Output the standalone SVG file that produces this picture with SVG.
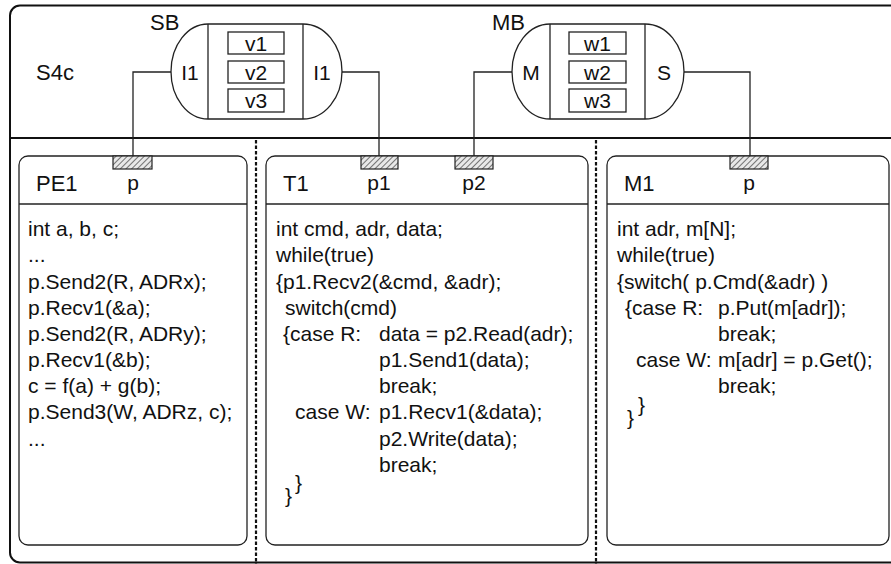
<svg xmlns="http://www.w3.org/2000/svg" width="891" height="564" viewBox="0 0 891 564">
<style>
text{font-family:"Liberation Sans",Arial,sans-serif;fill:#111}
.lbl{font-size:22px}
.code{font-size:21px}
.small{font-size:21px;text-anchor:middle}
.box{fill:#fff;stroke:#222;stroke-width:1.3}
.ln{fill:none;stroke:#222;stroke-width:1.3}
.port{fill:url(#hatch);stroke:#222;stroke-width:1.2}
.conn{fill:none;stroke:#222;stroke-width:1.3}
.dots{stroke:#111;stroke-width:2.2;stroke-dasharray:3.5 2}
</style>
<defs>
<pattern id="hatch" patternUnits="userSpaceOnUse" width="4" height="4" patternTransform="rotate(45)">
<rect width="4" height="4" fill="#e8e8e8"/>
<line x1="0" y1="0" x2="0" y2="4" stroke="#555" stroke-width="1.6"/>
</pattern>
</defs>
<rect width="891" height="564" fill="#fff"/>
<g id="S4c">
<rect x="10" y="5.5" width="900" height="557" rx="10" fill="none" stroke="#111" stroke-width="2"/>
<line x1="10" y1="138" x2="891" y2="138" stroke="#111" stroke-width="1.8"/>
<line class="dots" x1="256" y1="140" x2="256" y2="564"/>
<line class="dots" x1="596" y1="140" x2="596" y2="564"/>
<text class="lbl" x="36" y="80">S4c</text>
</g>
<g id="SB">
<path class="box" d="M208,24 L303,24 A39,47.5 0 0 1 303,119 L208,119 A37,47.5 0 0 1 208,24 Z"/>
<line class="ln" x1="208" y1="24" x2="208" y2="119"/>
<line class="ln" x1="303" y1="24" x2="303" y2="119"/>
<rect class="box" x="228" y="32" width="56" height="22"/>
<rect class="box" x="228" y="61" width="56" height="22"/>
<rect class="box" x="228" y="89" width="56" height="23"/>
<text class="small" x="256" y="51">v1</text>
<text class="small" x="256" y="80">v2</text>
<text class="small" x="256" y="108">v3</text>
<text class="small" x="190" y="80">I1</text>
<text class="small" x="322" y="80">I1</text>
<text class="lbl" x="150" y="30">SB</text>
</g>
<g id="MB">
<path class="box" d="M550,24 L645,24 A39,47.5 0 0 1 645,119 L550,119 A38,47.5 0 0 1 550,24 Z"/>
<line class="ln" x1="550" y1="24" x2="550" y2="119"/>
<line class="ln" x1="645" y1="24" x2="645" y2="119"/>
<rect class="box" x="569" y="32" width="57" height="22"/>
<rect class="box" x="569" y="61" width="57" height="22"/>
<rect class="box" x="569" y="89" width="57" height="23"/>
<text class="small" x="597.5" y="51">w1</text>
<text class="small" x="597.5" y="80">w2</text>
<text class="small" x="597.5" y="108">w3</text>
<text class="small" x="531" y="80">M</text>
<text class="small" x="664" y="80">S</text>
<text class="lbl" x="492" y="30">MB</text>
</g>
<g id="connectors">
<polyline class="conn" points="171,72 133,72 133,156"/>
<polyline class="conn" points="342,72 379,72 379,156"/>
<polyline class="conn" points="512,72 474,72 474,156"/>
<polyline class="conn" points="684,72 750,72 750,156"/>
</g>
<g id="PE1">
<rect class="box" x="19" y="156" width="228" height="389" rx="9"/>
<line class="ln" x1="19" y1="204" x2="247" y2="204"/>
<rect class="port" x="113" y="156" width="39" height="13"/>
<text class="lbl" x="36" y="191">PE1</text>
<text class="small" x="133" y="190">p</text>
<text class="code" x="28" y="236">int a, b, c;</text>
<text class="code" x="28" y="262">...</text>
<text class="code" x="28" y="289">p.Send2(R, ADRx);</text>
<text class="code" x="28" y="315">p.Recv1(&amp;a);</text>
<text class="code" x="28" y="341">p.Send2(R, ADRy);</text>
<text class="code" x="28" y="367">p.Recv1(&amp;b);</text>
<text class="code" x="28" y="393">c = f(a) + g(b);</text>
<text class="code" x="28" y="419">p.Send3(W, ADRz, c);</text>
<text class="code" x="28" y="446">...</text>
</g>
<g id="T1">
<rect class="box" x="266" y="156" width="322" height="389" rx="9"/>
<line class="ln" x1="266" y1="204" x2="588" y2="204"/>
<rect class="port" x="361" y="156" width="37" height="13"/>
<rect class="port" x="455" y="156" width="38" height="13"/>
<text class="lbl" x="283" y="191">T1</text>
<text class="small" x="379" y="190">p1</text>
<text class="small" x="474" y="190">p2</text>
<text class="code" x="276" y="236">int cmd, adr, data;</text>
<text class="code" x="276" y="262">while(true)</text>
<text class="code" x="276" y="289">{p1.Recv2(&amp;cmd, &amp;adr);</text>
<text class="code" x="285" y="315">switch(cmd)</text>
<text class="code" x="283" y="341">{case R:</text>
<text class="code" x="379" y="341">data = p2.Read(adr);</text>
<text class="code" x="379" y="367">p1.Send1(data);</text>
<text class="code" x="379" y="393">break;</text>
<text class="code" x="295" y="419">case W:</text>
<text class="code" x="379" y="419">p1.Recv1(&amp;data);</text>
<text class="code" x="379" y="446">p2.Write(data);</text>
<text class="code" x="379" y="472">break;</text>
<text class="code" x="295" y="490">}</text>
<text class="code" x="285" y="503">}</text>
</g>
<g id="M1">
<rect class="box" x="607" y="156" width="282" height="389" rx="9"/>
<line class="ln" x1="607" y1="204" x2="889" y2="204"/>
<rect class="port" x="730" y="156" width="38" height="13"/>
<text class="lbl" x="624" y="191">M1</text>
<text class="small" x="749" y="190">p</text>
<text class="code" x="617" y="236">int adr, m[N];</text>
<text class="code" x="617" y="262">while(true)</text>
<text class="code" x="617" y="289">{switch( p.Cmd(&amp;adr) )</text>
<text class="code" x="625" y="315">{case R:</text>
<text class="code" x="718" y="315">p.Put(m[adr]);</text>
<text class="code" x="718" y="341">break;</text>
<text class="code" x="636" y="367">case W:</text>
<text class="code" x="718" y="367">m[adr] = p.Get();</text>
<text class="code" x="718" y="393">break;</text>
<text class="code" x="638" y="412">}</text>
<text class="code" x="627" y="425">}</text>
</g>
</svg>
